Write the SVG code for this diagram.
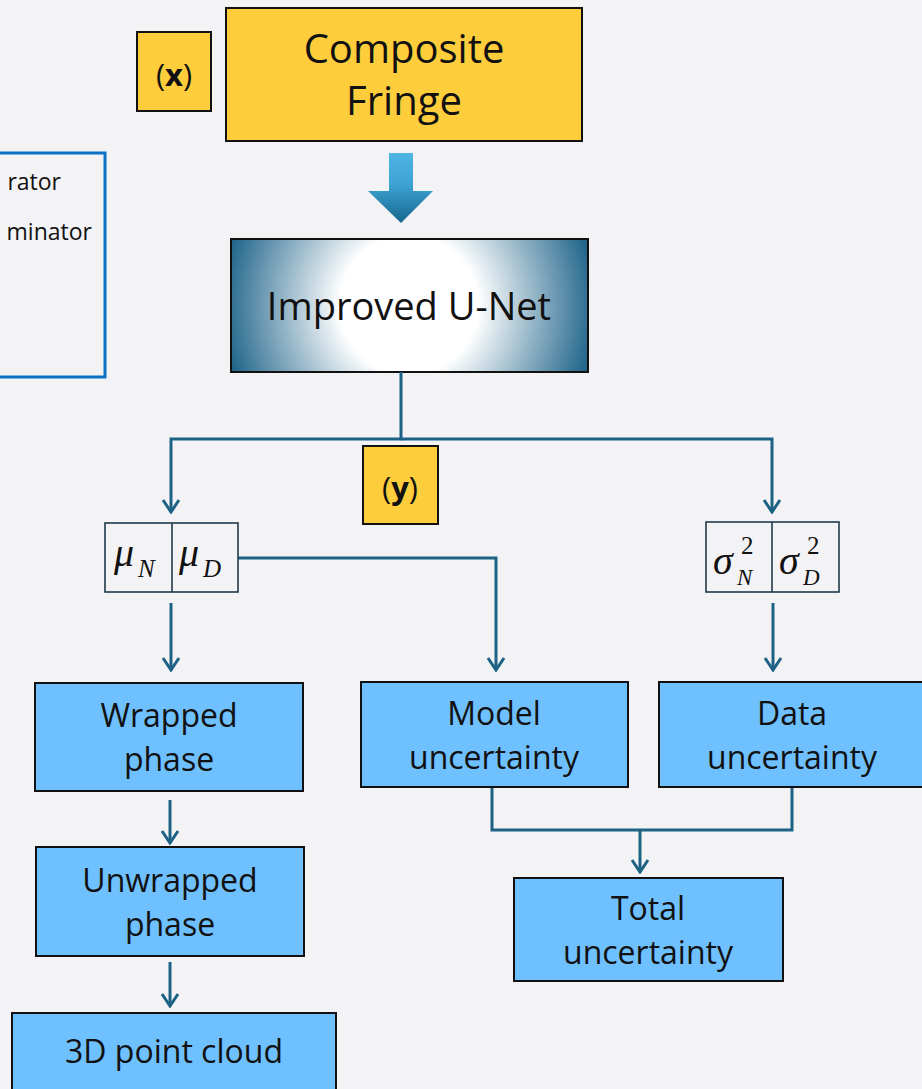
<svg xmlns="http://www.w3.org/2000/svg" width="922" height="1089" viewBox="0 0 922 1089">
<style>
  .yel{fill:#fecd3c;stroke:#111;stroke-width:2}
  .blu{fill:#6fc0fe;stroke:#111;stroke-width:2}
  .t{font-family:"Open Sans","Noto Sans",sans-serif;fill:#111;text-anchor:middle}
  .b{font-size:32px}
  .conn{fill:none;stroke:#1d6285;stroke-width:3;marker-end:url(#ah)}
  .plain{fill:none;stroke:#1d6285;stroke-width:3}
  .m{font-family:"Liberation Serif","DejaVu Serif",serif;font-style:italic;fill:#111}
  .sup{font-family:"Liberation Serif","DejaVu Serif",serif;fill:#111;font-size:25px}
  .box2{fill:none;stroke:#1f3a4a;stroke-width:1.6}
</style>
<defs>
  <marker id="ah" viewBox="-14 -10 16 20" refX="0" refY="0" markerUnits="userSpaceOnUse" markerWidth="16" markerHeight="20" orient="auto">
    <path d="M-12,-8 L0,0 L-12,8" fill="none" stroke="#1d6285" stroke-width="3"/>
  </marker>
  <radialGradient id="ugrad" gradientUnits="userSpaceOnUse" cx="409" cy="305" r="192">
    <stop offset="0" stop-color="#ffffff"/>
    <stop offset="0.36" stop-color="#ffffff"/>
    <stop offset="1" stop-color="#185f86"/>
  </radialGradient>
  <linearGradient id="agrad" x1="0" y1="0" x2="0" y2="1">
    <stop offset="0" stop-color="#4db4e4"/>
    <stop offset="0.45" stop-color="#3da3d4"/>
    <stop offset="1" stop-color="#16668c"/>
  </linearGradient>
</defs>
<rect x="0" y="0" width="922" height="1089" fill="#f3f3f6"/>

<g id="legend">
  <rect x="-10" y="153" width="115" height="224" fill="none" stroke="#0a72c4" stroke-width="3"/>
  <text class="t" x="61" y="190" style="font-size:23px;text-anchor:end">rator</text>
  <text class="t" x="92" y="240" style="font-size:23px;text-anchor:end">minator</text>
</g>

<g id="x-label">
  <rect class="yel" x="137" y="32" width="74" height="79"/>
  <text class="t" x="174" y="86" style="font-size:31px">(<tspan font-weight="bold">x</tspan>)</text>
</g>

<g id="composite-fringe">
  <rect class="yel" x="226" y="8" width="356" height="133"/>
  <text class="t" x="404" y="63" style="font-size:40px">Composite</text>
  <text class="t" x="404" y="115" style="font-size:40px">Fringe</text>
</g>

<g id="big-arrow">
  <path d="M389,153 H413 V191 H433 L401,223 L368,191 H389 Z" fill="url(#agrad)"/>
</g>

<g id="unet">
  <rect x="231" y="239" width="357" height="133" fill="url(#ugrad)" stroke="#111" stroke-width="2"/>
  <text class="t" x="409" y="320" style="font-size:38px">Improved U-Net</text>
</g>

<g id="y-label">
  <rect class="yel" x="363" y="446" width="75" height="78"/>
  <text class="t" x="400" y="499" style="font-size:31px">(<tspan font-weight="bold">y</tspan>)</text>
</g>

<g id="connectors">
  <path class="conn" d="M401,372 V439 H171 V512"/>
  <path class="conn" d="M401,439 H772 V512"/>
  <path class="conn" d="M238,558 H496 V670"/>
  <path class="conn" d="M171,603 V670"/>
  <path class="conn" d="M773,603 V670"/>
  <path class="conn" d="M170,800 V843"/>
  <path class="conn" d="M170,962 V1006"/>
  <path class="plain" d="M492,788 V830 H792 V788"/>
  <path class="conn" d="M640,830 V872"/>
</g>

<g id="mu">
  <rect class="box2" x="105" y="523" width="133" height="69"/>
  <line class="box2" x1="172" y1="523" x2="172" y2="592"/>
  <text class="m" x="114" y="566" font-size="40">μ</text>
  <text class="m" x="138" y="577" font-size="25">N</text>
  <text class="m" x="179" y="566" font-size="40">μ</text>
  <text class="m" x="203" y="577" font-size="25">D</text>
</g>

<g id="sigma">
  <rect class="box2" x="706" y="522" width="133" height="70"/>
  <line class="box2" x1="772" y1="522" x2="772" y2="592"/>
  <text class="m" x="713" y="574" font-size="40">σ</text>
  <text class="sup" x="741" y="554">2</text>
  <text class="m" x="737" y="585" font-size="23">N</text>
  <text class="m" x="779" y="574" font-size="40">σ</text>
  <text class="sup" x="807" y="554">2</text>
  <text class="m" x="803" y="585" font-size="23">D</text>
</g>

<g id="wrapped">
  <rect class="blu" x="35" y="683" width="268" height="108"/>
  <text class="t b" x="169" y="727">Wrapped</text>
  <text class="t b" x="169" y="771">phase</text>
</g>

<g id="model-unc">
  <rect class="blu" x="361" y="682" width="267" height="105"/>
  <text class="t b" x="494" y="725">Model</text>
  <text class="t b" x="494" y="769">uncertainty</text>
</g>

<g id="data-unc">
  <rect class="blu" x="659" y="682" width="267" height="105"/>
  <text class="t b" x="792" y="725">Data</text>
  <text class="t b" x="792" y="769">uncertainty</text>
</g>

<g id="unwrapped">
  <rect class="blu" x="36" y="847" width="268" height="109"/>
  <text class="t b" x="170" y="892">Unwrapped</text>
  <text class="t b" x="170" y="936">phase</text>
</g>

<g id="total-unc">
  <rect class="blu" x="514" y="878" width="269" height="103"/>
  <text class="t b" x="648" y="920">Total</text>
  <text class="t b" x="648" y="964">uncertainty</text>
</g>

<g id="pointcloud">
  <rect class="blu" x="12" y="1013" width="324" height="90"/>
  <text class="t b" x="174" y="1063">3D point cloud</text>
</g>
</svg>
